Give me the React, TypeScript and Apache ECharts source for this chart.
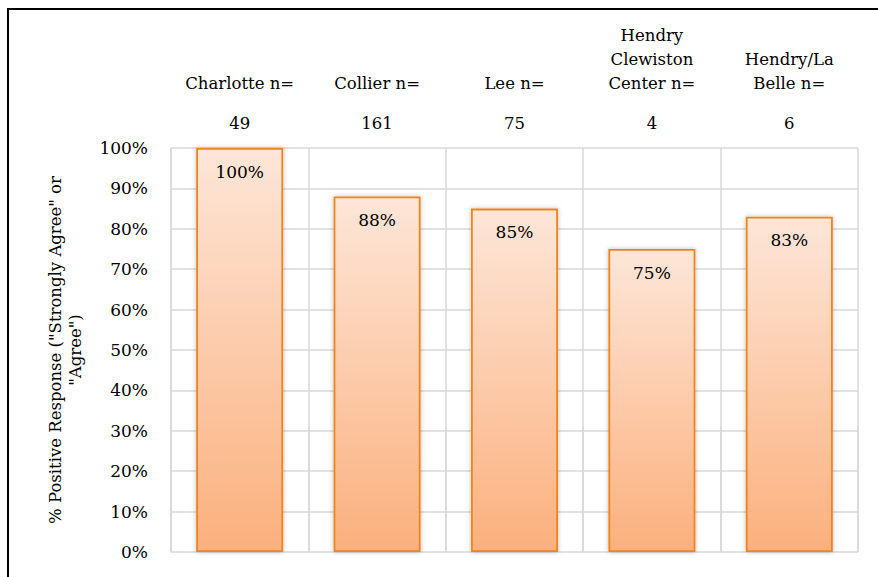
import React, { useEffect, useRef } from "react";
import * as echarts from "echarts";

const categories = [
  "Charlotte n=",
  "Collier n=",
  "Lee n=",
  "Hendry\nClewiston\nCenter n=",
  "Hendry/La\nBelle n=",
];
const counts = ["49", "161", "75", "4", "6"];
const values = [100, 88, 85, 75, 83];
const yTicks = [0, 10, 20, 30, 40, 50, 60, 70, 80, 90, 100];

const FONT = "DejaVu Serif";

export default function App() {
  const ref = useRef<HTMLDivElement>(null);
  useEffect(() => {
    if (!ref.current) return;
    const chart = echarts.init(ref.current, null, { renderer: "svg" });
    const labels = categories.map(
      (c, i) =>
        c
          .split("\n")
          .map((l) => `{a|${l}}`)
          .join("\n") + `\n{s| }\n{a|${counts[i]}}`
    );
    chart.setOption({
      animation: false,
      backgroundColor: "#ffffff",
      graphic: [
        {
          type: "rect",
          shape: { x: 8, y: 9, width: 900, height: 620 },
          style: { fill: "none", stroke: "#000000", lineWidth: 2 },
          silent: true,
        },
      ],
      grid: { left: 171, right: 20, top: 148, bottom: 25 },
      xAxis: {
        type: "category",
        position: "top",
        data: labels,
        axisLine: { show: false },
        axisTick: {
          show: true,
          length: 126,
          lineStyle: { color: "#d9d9d9", width: 1.5 },
        },
        splitLine: { show: true, lineStyle: { color: "#d9d9d9", width: 1.5 } },
        axisLabel: {
          interval: 0,
          margin: 13,
          color: "#000",
          fontFamily: FONT,
          rich: {
            a: { fontSize: 16.5, lineHeight: 24, fontFamily: FONT, color: "#000" },
            s: { fontSize: 10, lineHeight: 16, fontFamily: FONT },
          },
        },
      },
      yAxis: {
        type: "value",
        min: 0,
        max: 100,
        interval: 10,
        axisLine: { show: true, lineStyle: { color: "#d9d9d9", width: 1.5 } },
        axisTick: { show: false },
        splitLine: { show: true, lineStyle: { color: "#d9d9d9", width: 1.5 } },
        axisLabel: {
          margin: 23,
          color: "#000",
          fontSize: 17,
          fontFamily: FONT,
          formatter: (v: number) => (yTicks.includes(v) ? `${v}%` : ""),
        },
        name: '% Positive Response ("Strongly Agree" or\n"Agree")',
        nameLocation: "middle",
        nameGap: 86,
        nameTextStyle: {
          color: "#000",
          fontSize: 16.5,
          fontFamily: FONT,
          lineHeight: 20,
        },
      },
      series: [
        {
          type: "bar",
          data: values,
          barWidth: 87,
          itemStyle: {
            color: new echarts.graphic.LinearGradient(0, 0, 0, 1, [
              { offset: 0, color: "#fde6d8" },
              { offset: 1, color: "#fbb07d" },
            ]),
            borderColor: "#f0841a",
            borderWidth: 1.8,
            shadowBlur: 5,
            shadowColor: "rgba(0,0,0,0.25)",
          },
          label: {
            show: true,
            position: "insideTop",
            distance: 15,
            color: "#000",
            fontSize: 17,
            fontFamily: FONT,
            formatter: (p: any) => `${p.value}%`,
          },
        },
      ],
    });
    return () => chart.dispose();
  }, []);
  return (
    <div
      ref={ref}
      style={{ position: "absolute", left: 0, top: 0, width: 878, height: 577 }}
    />
  );
}
